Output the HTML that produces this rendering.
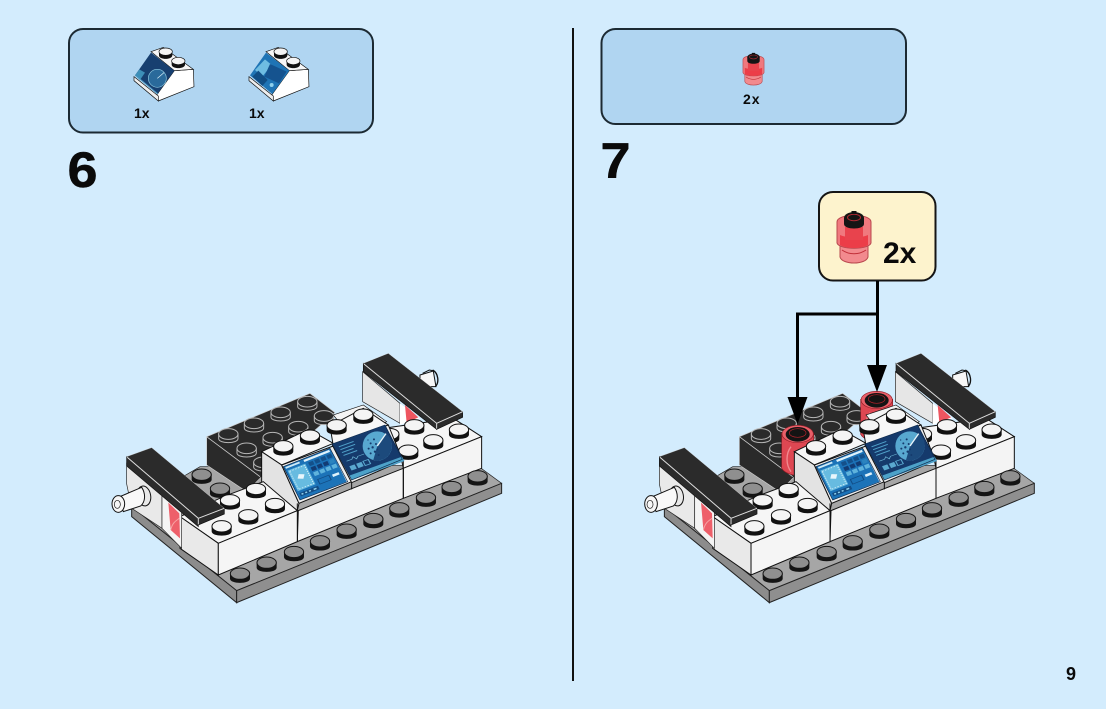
<!DOCTYPE html>
<html><head><meta charset="utf-8"><style>
html,body{margin:0;padding:0;width:1106px;height:709px;overflow:hidden;background:#d3ecfd}
svg{display:block}
text{font-family:"Liberation Sans",sans-serif;font-weight:700;fill:#0a0a0a}
</style></head><body>
<svg width="1106" height="709" viewBox="0 0 1106 709" xmlns="http://www.w3.org/2000/svg">
<defs>
<g id="ws"><path d="M-30,-6V9C-30,26 30,26 30,9V-6Z" fill="#111"/><ellipse cx="0" cy="-6" rx="29" ry="17" fill="#f4f4f4" stroke="#111" stroke-width="3"/></g>
<g id="gs"><path d="M-30,-6V9C-30,26 30,26 30,9V-6Z" fill="#151515"/><ellipse cx="0" cy="-6" rx="29" ry="17" fill="#8f8f8f" stroke="#151515" stroke-width="3"/></g>
<g id="bs"><path d="M-29,-5V9C-29,25 29,25 29,9V-5" fill="#2a2a2a" stroke="#b5b5b5" stroke-width="3"/><ellipse cx="0" cy="-5" rx="29" ry="16" fill="#2a2a2a" stroke="#b5b5b5" stroke-width="3"/></g>
<g id="rd">
<path d="M-14,8V20C-12,28 12,28 14,20V8Z" fill="#f28a8e" stroke="#b9484e" stroke-width="1"/>
<path d="M-17,-15C-17,-24 17,-24 17,-15V6C15,13 -15,13 -17,6Z" fill="#f0797e" stroke="#b9484e" stroke-width="1"/>
<path d="M-14,-2C-8,1 8,1 14,-2V8C8,12 -8,12 -14,8Z" fill="#ec3d48"/>
<path d="M-9,-10H9V3H-9Z" fill="#e8434d"/>
<path d="M-10,-19V-13C-10,-7 10,-7 10,-13V-19Z" fill="#151515"/>
<ellipse cx="0" cy="-19" rx="10" ry="6" fill="#151515"/>
<ellipse cx="0" cy="-19.500" rx="6.500" ry="3.200" fill="#151515" stroke="#b02a33" stroke-width="1"/>
<rect x="-2.500" y="-26" width="5" height="3" fill="#111"/>
<path d="M-12,13C-5,18 5,18 12,13" fill="none" stroke="#c13039" stroke-width="1"/>
</g>
<g id="rm">
<path d="M-48,0V105C-38,122 -8,128 4,125L48,60V0Z" fill="#de4752" stroke="#8e1c24" stroke-width="2"/>
<path d="M-20,40C-36,60 -36,95 -20,115" fill="none" stroke="#f08a90" stroke-width="4"/>
<ellipse cx="0" cy="2" rx="47" ry="26" fill="#e95f69" stroke="#8e1c24" stroke-width="2"/>
<ellipse cx="0" cy="3" rx="36" ry="22" fill="#141414"/>
<ellipse cx="0" cy="-1" rx="25" ry="13" fill="#141414" stroke="#b8222c" stroke-width="2"/>
</g>
<g id="back">
<polygon points="95,500 410,752 1205,430 1130,375 300,380" fill="#a6a6a6" stroke="#222" stroke-width="2"/>
<polygon points="95,500 410,752 410,788 95,530" fill="#8c8c8c" stroke="#222" stroke-width="3"/>
<polygon points="410,752 1205,430 1205,460 410,788" fill="#8f8f8f" stroke="#222" stroke-width="3"/>
<use href="#gs" x="305" y="410"/><use href="#gs" x="360" y="452"/>
<path d="M960,105L1000,93L1008,140L960,140Z" fill="#f7f7f7" stroke="#111" stroke-width="3"/>
<path d="M998,90C1016,100 1018,128 1006,140" fill="none" stroke="#111" stroke-width="4"/>
<path d="M968,100L988,90L998,92" fill="none" stroke="#111" stroke-width="3"/>
<polygon points="788,95 900,190 900,250 788,185" fill="#e6e6e6" stroke="#222" stroke-width="2"/>
<polygon points="900,190 960,235 900,255" fill="#fff"/>
<polygon points="915,195 955,232 920,248" fill="#ee5560"/>
<polygon points="320,290 630,160 705,218 480,415 440,455 320,375" fill="#2a2a2a" stroke="#ccc" stroke-width="2"/>
<path d="M320,290L480,410" stroke="#ccc" stroke-width="2.500" fill="none"/>
<use href="#bs" x="385" y="287"/><use href="#bs" x="462" y="255"/><use href="#bs" x="542" y="222"/><use href="#bs" x="622" y="190"/>
<use href="#bs" x="440" y="330"/><use href="#bs" x="518" y="298"/><use href="#bs" x="595" y="265"/><use href="#bs" x="672" y="233"/>
<use href="#bs" x="490" y="372"/>
</g>
<g id="front">
<polygon points="700,225 790,195 860,245 760,300" fill="#f4f4f4" stroke="#111" stroke-width="2"/>
<polygon points="870,262 1060,235 1145,290 910,385 905,360" fill="#f6f6f6" stroke="#111" stroke-width="3"/>
<polygon points="910,385 1145,290 1145,385 910,475" fill="#f4f4f4" stroke="#111" stroke-width="3"/>
<use href="#ws" x="868" y="288"/><use href="#ws" x="925" y="338"/>
<polygon points="485,335 625,268 700,310 545,375" fill="#f7f7f7" stroke="#111" stroke-width="3"/>
<polygon points="690,258 790,205 865,255 700,318" fill="#f7f7f7" stroke="#111" stroke-width="3"/>
<polygon points="485,335 545,375 597,490 592,512 485,425" fill="#e3e3e3" stroke="#111" stroke-width="3"/>
<polygon points="595,512 750,448 910,385 910,475 592,605" fill="#f4f4f4" stroke="#111" stroke-width="3"/>
<polygon points="545,375 700,318 755,425 597,490" fill="#eee" stroke="#111" stroke-width="3"/>
<polygon points="697,315 865,255 908,362 755,428" fill="#eee" stroke="#111" stroke-width="3"/>
<path d="M755,428V448M592,490V605M910,362V475" stroke="#111" stroke-width="3" fill="none"/>
<polygon points="240,530 370,470 490,425 592,512 355,610" fill="#f6f6f6" stroke="#111" stroke-width="3"/>
<polygon points="240,530 355,610 355,705 240,625" fill="#e9e9e9" stroke="#111" stroke-width="3"/>
<polygon points="355,610 592,512 592,605 355,705" fill="#f5f5f5" stroke="#111" stroke-width="3"/>
<g transform="matrix(1.4,-0.55,0.5,1,550,380)">
<rect x="0" y="0" width="100" height="100" fill="#1c73b8"/>
<rect x="3" y="3" width="30" height="5" fill="#cfeaf6"/><rect x="42" y="3" width="55" height="6" fill="#dff2fb"/>
<rect x="4" y="14" width="38" height="62" fill="#67bbe0"/>
<rect x="7" y="18" width="32" height="54" fill="none" stroke="#dff2fb" stroke-width="2" stroke-dasharray="3 3"/>
<rect x="17" y="36" width="12" height="12" fill="#e8f6fc" transform="rotate(30 23 42)"/>
<g fill="#14508a"><rect x="48" y="14" width="10" height="11"/><rect x="61" y="14" width="10" height="11"/><rect x="74" y="14" width="10" height="11"/><rect x="87" y="14" width="10" height="11"/></g>
<g fill="#123c74"><rect x="48" y="29" width="10" height="11"/><rect x="61" y="29" width="10" height="11"/><rect x="74" y="29" width="10" height="11"/><rect x="87" y="29" width="10" height="11" fill="#2c84bf"/></g>
<g fill="#5fb3dc"><rect x="48" y="44" width="10" height="11"/><rect x="61" y="44" width="10" height="11"/><rect x="74" y="44" width="10" height="11"/><rect x="87" y="44" width="10" height="11"/></g>
<rect x="5" y="82" width="40" height="10" fill="#124c84"/>
<rect x="8" y="85" width="4" height="4" fill="#8fd0ec"/><rect x="16" y="85" width="4" height="4" fill="#8fd0ec"/><rect x="24" y="85" width="4" height="4" fill="#8fd0ec"/><rect x="34" y="85" width="6" height="4" fill="#8fd0ec"/>
<rect x="50" y="66" width="24" height="14" fill="#1c73b8" stroke="#124c84" stroke-width="2"/>
<rect x="80" y="68" width="14" height="7" fill="#dff2fb"/>
</g>
<polygon points="550,380 690,325 743,425 600,480" fill="none" stroke="#0d2a4d" stroke-width="2"/>
<g transform="matrix(1.58,-0.57,0.58,1.08,697,312)">
<rect x="0" y="0" width="100" height="100" fill="#153a6c"/>
<path d="M8,12H36M8,20H36M8,28H30M8,36H34" stroke="#4f9fc8" stroke-width="2.500" fill="none"/>
<path d="M8,52H18L22,47L26,55L30,50H42" stroke="#6db6d6" stroke-width="1.500" fill="none"/>
<rect x="8" y="66" width="10" height="12" fill="#5aa8cf"/><rect x="21" y="66" width="10" height="12" fill="#5aa8cf"/><rect x="34" y="66" width="10" height="12" fill="#153a6c" stroke="#5aa8cf" stroke-width="2"/>
<rect x="0" y="88" width="100" height="12" fill="#4da2c9"/>
</g>
<circle cx="832" cy="318" r="44" fill="#58a8d0"/>
<path d="M832,318L858,281A44,44 0 0 1 876,318A44,44 0 0 1 820,360Z" fill="#1c4a7c"/>
<path d="M832,318L858,281" stroke="#e8f4fa" stroke-width="4"/>
<g fill="#153a6c"><circle cx="812" cy="310" r="3"/><circle cx="822" cy="298" r="3"/><circle cx="806" cy="326" r="3"/><circle cx="818" cy="322" r="3.500"/><circle cx="828" cy="312" r="3"/><circle cx="812" cy="340" r="3"/><circle cx="825" cy="335" r="3.500"/><circle cx="832" cy="328" r="3"/><circle cx="836" cy="345" r="3"/><circle cx="804" cy="300" r="2"/></g>
<polygon points="697,312 855,255 907,358 755,420" fill="none" stroke="#0d2a4d" stroke-width="2"/>
<polygon points="80,370 186,458 186,565 95,505 80,432" fill="#e9e9e9" stroke="#222" stroke-width="2"/>
<polygon points="186,458 245,510 245,625 186,565" fill="#f4f4f4" stroke="#222" stroke-width="2"/>
<polygon points="205,488 238,520 240,595 212,570" fill="#ee5f6a"/>
<path d="M212,570C218,545 232,540 238,535" fill="none" stroke="#f6a5a5" stroke-width="3"/>
<ellipse cx="132" cy="468" rx="20" ry="30" fill="#e9e9e9" stroke="#111" stroke-width="3" transform="rotate(-10 132 468)"/>
<path d="M125,442C138,462 136,486 122,498L70,515L55,472Z" fill="#f9f9f9" stroke="#111" stroke-width="3"/>
<ellipse cx="55" cy="492" rx="19" ry="25" fill="#f7f7f7" stroke="#111" stroke-width="3"/>
<ellipse cx="52" cy="493" rx="9" ry="12" fill="none" stroke="#111" stroke-width="2"/>
<use href="#gs" x="420" y="707"/><use href="#gs" x="500" y="674"/><use href="#gs" x="582" y="642"/><use href="#gs" x="660" y="610"/><use href="#gs" x="740" y="575"/><use href="#gs" x="820" y="543"/><use href="#gs" x="898" y="511"/><use href="#gs" x="978" y="479"/><use href="#gs" x="1055" y="447"/><use href="#gs" x="1133" y="415"/>
<use href="#ws" x="468" y="453"/><use href="#ws" x="390" y="487"/><use href="#ws" x="525" y="498"/><use href="#ws" x="445" y="532"/><use href="#ws" x="365" y="565"/>
<use href="#ws" x="550" y="325"/><use href="#ws" x="630" y="293"/><use href="#ws" x="710" y="262"/><use href="#ws" x="790" y="230"/>
<use href="#ws" x="943" y="262"/><use href="#ws" x="1077" y="275"/><use href="#ws" x="1000" y="307"/>
<polygon points="80,350 295,535 295,560 80,378" fill="#2b2b2b" stroke="#111" stroke-width="2"/>
<polygon points="295,535 373,505 373,522 295,555" fill="#2b2b2b" stroke="#111" stroke-width="2"/>
<polygon points="80,350 155,323 373,505 295,535" fill="#2b2b2b" stroke="#ddd" stroke-width="1"/>
<path d="M82,352L295,535L373,505M295,535V553" fill="none" stroke="#ddd" stroke-width="3"/>
<polygon points="790,70 1010,250 1010,268 790,95" fill="#2b2b2b" stroke="#111" stroke-width="2"/>
<polygon points="1010,250 1088,215 1088,232 1010,268" fill="#2b2b2b" stroke="#111" stroke-width="2"/>
<polygon points="790,70 865,40 1088,215 1010,250" fill="#2b2b2b" stroke="#ddd" stroke-width="1"/>
<path d="M792,72L1010,250L1088,215M1010,250V266" fill="none" stroke="#ddd" stroke-width="3"/>
</g>
<g id="slope">
<polygon points="343,152 400,148 402,200 295,243 290,225" fill="#fff" stroke="#111" stroke-width="2"/>
<polygon points="273,95 310,82 400,148 343,152" fill="#f7f7f7" stroke="#111" stroke-width="2"/>
<polygon points="222,170 295,228 295,243 222,182" fill="#eee" stroke="#111" stroke-width="2"/>
<path d="M297,96V106C297,120 337,120 337,106V96Z" fill="#111"/><ellipse cx="317" cy="95" rx="20" ry="11" fill="#f5f5f5" stroke="#111" stroke-width="2"/>
<path d="M335,124V134C335,148 375,148 375,134V124Z" fill="#111"/><ellipse cx="355" cy="123" rx="20" ry="11" fill="#f5f5f5" stroke="#111" stroke-width="2"/>
</g>
</defs>
<rect width="1106" height="709" fill="#d3ecfd"/>
<rect x="572" y="28" width="2" height="653" fill="#111"/>
<rect x="69" y="29" width="304" height="103.500" rx="14" fill="#b0d5f1" stroke="#1c2a33" stroke-width="2"/>
<rect x="601.500" y="29" width="304.500" height="95" rx="14" fill="#b0d5f1" stroke="#1c2a33" stroke-width="2"/>
<g transform="translate(60,20) scale(0.3333)">
<use href="#slope"/>
<polygon points="225,166 273,98 343,152 292,222" fill="#173f70"/>
<polygon points="225,166 238,148 255,158 240,180" fill="#3d8fb8"/>
<circle cx="292" cy="175" r="27" fill="#2a6a9b" stroke="#8cc8e0" stroke-width="2"/>
<path d="M292,175L312,158" stroke="#dff2fb" stroke-width="2"/>
<polygon points="225,166 236,172 296,222 292,222" fill="#4b9bc4"/>
<g transform="translate(345,0)"><use href="#slope"/>
<polygon points="225,166 273,98 343,152 292,222" fill="#1f74b5"/>
<polygon points="240,150 270,118 290,135 262,170" fill="#6fbde2"/>
<polygon points="285,132 335,155 312,190 268,170" fill="#15538f"/>
<polygon points="232,170 250,152 278,180 262,198" fill="#114e85"/>
<circle cx="290" cy="195" r="6" fill="#8fd0ec"/>
</g>
</g>
<text x="134" y="118" font-size="14">1x</text>
<text x="249" y="118" font-size="14">1x</text>
<text x="743" y="104" font-size="14" letter-spacing="1">2x</text>
<text transform="translate(67.500,187) scale(1.08,1)" font-size="50" stroke="#0a0a0a" stroke-width="0.500">6</text>
<text transform="translate(600.500,178) scale(1.08,1)" font-size="50" stroke="#0a0a0a" stroke-width="0.500">7</text>
<text x="1066" y="680" font-size="18">9</text>
<use href="#rd" transform="translate(753.500,69) scale(0.62)"/>
<g transform="translate(100,340) scale(0.3333)"><use href="#back"/><use href="#front"/></g>
<g transform="translate(632.700,340) scale(0.3333)">
<use href="#back"/>
<use href="#rm" x="495" y="280"/>
<use href="#rm" x="732" y="178"/>
<use href="#front"/>
</g>
<rect x="819" y="192" width="116.500" height="88.500" rx="14" fill="#fdf3cd" stroke="#151515" stroke-width="2"/>
<use href="#rd" transform="translate(854,237) scale(1)"/>
<text x="883" y="263" font-size="30">2x</text>
<path d="M877.500,281V366M877,314H797.500V398" fill="none" stroke="#000" stroke-width="3"/>
<polygon points="867,365 887,365 877,392" fill="#000"/>
<polygon points="787.500,397 807.500,397 797.500,424" fill="#000"/>
</svg>
</body></html>
